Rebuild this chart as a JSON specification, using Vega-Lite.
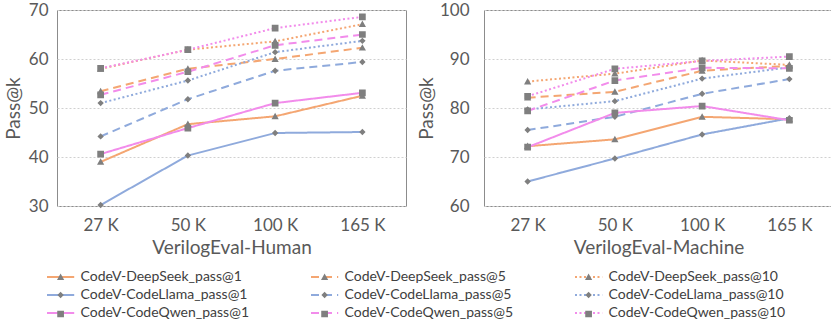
{
  "$schema": "https://vega.github.io/schema/vega-lite/v6.json",
  "background": "white",
  "padding": {"left": 3, "top": 0, "right": 0, "bottom": 0},
  "spacing": 9,
  "config": {
    "font": "Lato",
    "view": {"stroke": "#8c8c8c", "strokeWidth": 1},
    "axis": {
      "labelFont": "Lato", "labelFontSize": 17, "labelColor": "#595959",
      "titleFont": "Lato", "titleFontSize": 19, "titleFontWeight": "normal", "titleColor": "#595959",
      "ticks": false, "domain": false, "gridColor": "#d0d0d0", "gridDash": [2, 2], "gridWidth": 1
    },
    "axisX": {"grid": false, "labelPadding": 11, "titlePadding": 5, "labelAngle": 0},
    "axisY": {"grid": true},
    "legend": {"title": null, "orient": "none", "direction": "horizontal", "legendX": -10, "legendY": 258, "columns": 3, "symbolSize": 256, "symbolStrokeWidth": 2, "symbolOffset": 4.6, "labelFont": "Lato", "labelFontSize": 14, "labelColor": "#404040", "columnPadding": 56, "rowPadding": 2, "labelOffset": 11, "padding": 0, "labelLimit": 0}
  },
  "datasets": {
    "human": [
      {"size": "27 K", "series": "CodeV-DeepSeek_pass@1", "value": 39.0},
      {"size": "50 K", "series": "CodeV-DeepSeek_pass@1", "value": 46.7},
      {"size": "100 K", "series": "CodeV-DeepSeek_pass@1", "value": 48.3},
      {"size": "165 K", "series": "CodeV-DeepSeek_pass@1", "value": 52.5},
      {"size": "27 K", "series": "CodeV-DeepSeek_pass@5", "value": 53.4},
      {"size": "50 K", "series": "CodeV-DeepSeek_pass@5", "value": 58.0},
      {"size": "100 K", "series": "CodeV-DeepSeek_pass@5", "value": 60.0},
      {"size": "165 K", "series": "CodeV-DeepSeek_pass@5", "value": 62.3},
      {"size": "27 K", "series": "CodeV-DeepSeek_pass@10", "value": 58.0},
      {"size": "50 K", "series": "CodeV-DeepSeek_pass@10", "value": 61.9},
      {"size": "100 K", "series": "CodeV-DeepSeek_pass@10", "value": 63.6},
      {"size": "165 K", "series": "CodeV-DeepSeek_pass@10", "value": 67.1},
      {"size": "27 K", "series": "CodeV-CodeLlama_pass@1", "value": 30.2},
      {"size": "50 K", "series": "CodeV-CodeLlama_pass@1", "value": 40.3},
      {"size": "100 K", "series": "CodeV-CodeLlama_pass@1", "value": 44.9},
      {"size": "165 K", "series": "CodeV-CodeLlama_pass@1", "value": 45.1},
      {"size": "27 K", "series": "CodeV-CodeLlama_pass@5", "value": 44.2},
      {"size": "50 K", "series": "CodeV-CodeLlama_pass@5", "value": 51.8},
      {"size": "100 K", "series": "CodeV-CodeLlama_pass@5", "value": 57.6},
      {"size": "165 K", "series": "CodeV-CodeLlama_pass@5", "value": 59.4},
      {"size": "27 K", "series": "CodeV-CodeLlama_pass@10", "value": 51.0},
      {"size": "50 K", "series": "CodeV-CodeLlama_pass@10", "value": 55.6},
      {"size": "100 K", "series": "CodeV-CodeLlama_pass@10", "value": 61.4},
      {"size": "165 K", "series": "CodeV-CodeLlama_pass@10", "value": 63.7},
      {"size": "27 K", "series": "CodeV-CodeQwen_pass@1", "value": 40.6},
      {"size": "50 K", "series": "CodeV-CodeQwen_pass@1", "value": 45.9},
      {"size": "100 K", "series": "CodeV-CodeQwen_pass@1", "value": 51.0},
      {"size": "165 K", "series": "CodeV-CodeQwen_pass@1", "value": 53.1},
      {"size": "27 K", "series": "CodeV-CodeQwen_pass@5", "value": 52.7},
      {"size": "50 K", "series": "CodeV-CodeQwen_pass@5", "value": 57.4},
      {"size": "100 K", "series": "CodeV-CodeQwen_pass@5", "value": 62.8},
      {"size": "165 K", "series": "CodeV-CodeQwen_pass@5", "value": 65.0},
      {"size": "27 K", "series": "CodeV-CodeQwen_pass@10", "value": 58.1},
      {"size": "50 K", "series": "CodeV-CodeQwen_pass@10", "value": 61.9},
      {"size": "100 K", "series": "CodeV-CodeQwen_pass@10", "value": 66.3},
      {"size": "165 K", "series": "CodeV-CodeQwen_pass@10", "value": 68.6}
    ],
    "machine": [
      {"size": "27 K", "series": "CodeV-DeepSeek_pass@1", "value": 72.2},
      {"size": "50 K", "series": "CodeV-DeepSeek_pass@1", "value": 73.6},
      {"size": "100 K", "series": "CodeV-DeepSeek_pass@1", "value": 78.2},
      {"size": "165 K", "series": "CodeV-DeepSeek_pass@1", "value": 77.7},
      {"size": "27 K", "series": "CodeV-DeepSeek_pass@5", "value": 82.1},
      {"size": "50 K", "series": "CodeV-DeepSeek_pass@5", "value": 83.3},
      {"size": "100 K", "series": "CodeV-DeepSeek_pass@5", "value": 87.6},
      {"size": "165 K", "series": "CodeV-DeepSeek_pass@5", "value": 88.6},
      {"size": "27 K", "series": "CodeV-DeepSeek_pass@10", "value": 85.4},
      {"size": "50 K", "series": "CodeV-DeepSeek_pass@10", "value": 87.0},
      {"size": "100 K", "series": "CodeV-DeepSeek_pass@10", "value": 89.7},
      {"size": "165 K", "series": "CodeV-DeepSeek_pass@10", "value": 88.8},
      {"size": "27 K", "series": "CodeV-CodeLlama_pass@1", "value": 65.0},
      {"size": "50 K", "series": "CodeV-CodeLlama_pass@1", "value": 69.7},
      {"size": "100 K", "series": "CodeV-CodeLlama_pass@1", "value": 74.6},
      {"size": "165 K", "series": "CodeV-CodeLlama_pass@1", "value": 77.9},
      {"size": "27 K", "series": "CodeV-CodeLlama_pass@5", "value": 75.5},
      {"size": "50 K", "series": "CodeV-CodeLlama_pass@5", "value": 78.2},
      {"size": "100 K", "series": "CodeV-CodeLlama_pass@5", "value": 82.9},
      {"size": "165 K", "series": "CodeV-CodeLlama_pass@5", "value": 85.9},
      {"size": "27 K", "series": "CodeV-CodeLlama_pass@10", "value": 79.7},
      {"size": "50 K", "series": "CodeV-CodeLlama_pass@10", "value": 81.4},
      {"size": "100 K", "series": "CodeV-CodeLlama_pass@10", "value": 86.0},
      {"size": "165 K", "series": "CodeV-CodeLlama_pass@10", "value": 88.3},
      {"size": "27 K", "series": "CodeV-CodeQwen_pass@1", "value": 72.0},
      {"size": "50 K", "series": "CodeV-CodeQwen_pass@1", "value": 79.0},
      {"size": "100 K", "series": "CodeV-CodeQwen_pass@1", "value": 80.4},
      {"size": "165 K", "series": "CodeV-CodeQwen_pass@1", "value": 77.5},
      {"size": "27 K", "series": "CodeV-CodeQwen_pass@5", "value": 79.4},
      {"size": "50 K", "series": "CodeV-CodeQwen_pass@5", "value": 85.6},
      {"size": "100 K", "series": "CodeV-CodeQwen_pass@5", "value": 88.2},
      {"size": "165 K", "series": "CodeV-CodeQwen_pass@5", "value": 88.1},
      {"size": "27 K", "series": "CodeV-CodeQwen_pass@10", "value": 82.4},
      {"size": "50 K", "series": "CodeV-CodeQwen_pass@10", "value": 88.0},
      {"size": "100 K", "series": "CodeV-CodeQwen_pass@10", "value": 89.6},
      {"size": "165 K", "series": "CodeV-CodeQwen_pass@10", "value": 90.5}
    ]
  },
  "hconcat": [
    {
      "width": 349, "height": 196,
      "data": {"name": "human"},
      "encoding": {
        "x": {"field": "size", "type": "ordinal", "scale": {"domain": ["27 K", "50 K", "100 K", "165 K"]}, "axis": {"title": "VerilogEval-Human"}},
        "y": {"field": "value", "type": "quantitative", "scale": {"domain": [30, 70], "nice": false, "zero": false}, "axis": {"values": [30, 40, 50, 60, 70], "title": "Pass@k", "labelPadding": 9, "titlePadding": 5}}
      },
      "layer": [
        {
          "mark": {"type": "line", "strokeWidth": 2},
          "encoding": {
            "color": {"field": "series", "type": "nominal",
              "scale": {"domain": ["CodeV-DeepSeek_pass@1", "CodeV-DeepSeek_pass@5", "CodeV-DeepSeek_pass@10", "CodeV-CodeLlama_pass@1", "CodeV-CodeLlama_pass@5", "CodeV-CodeLlama_pass@10", "CodeV-CodeQwen_pass@1", "CodeV-CodeQwen_pass@5", "CodeV-CodeQwen_pass@10"],
                "range": ["#F4A672", "#F4A672", "#F4A672", "#8FAADC", "#8FAADC", "#8FAADC", "#F28CEB", "#F28CEB", "#F28CEB"]},
              "legend": {"symbolType": "M-1.7,0L1.7,0"}},
            "strokeDash": {"field": "series", "type": "nominal",
              "scale": {"domain": ["CodeV-DeepSeek_pass@1", "CodeV-DeepSeek_pass@5", "CodeV-DeepSeek_pass@10", "CodeV-CodeLlama_pass@1", "CodeV-CodeLlama_pass@5", "CodeV-CodeLlama_pass@10", "CodeV-CodeQwen_pass@1", "CodeV-CodeQwen_pass@5", "CodeV-CodeQwen_pass@10"],
                "range": [[1, 0], [8, 5], [2, 2.5], [1, 0], [8, 5], [2, 2.5], [1, 0], [8, 5], [2, 2.5]]},
              "legend": {"symbolType": "M-1.7,0L1.7,0"}}
          }
        },
        {
          "mark": {"type": "point", "filled": true, "color": "#7f7f7f", "size": 256, "opacity": 1, "strokeWidth": 0},
          "encoding": {
            "shape": {"field": "series", "type": "nominal",
              "sort": ["CodeV-DeepSeek_pass@1", "CodeV-DeepSeek_pass@5", "CodeV-DeepSeek_pass@10", "CodeV-CodeLlama_pass@1", "CodeV-CodeLlama_pass@5", "CodeV-CodeLlama_pass@10", "CodeV-CodeQwen_pass@1", "CodeV-CodeQwen_pass@5", "CodeV-CodeQwen_pass@10"],
              "scale": {"range": [
                "M-1.7,0L1.7,0M0,-0.45L0.45,0.36L-0.45,0.36Z", "M-1.7,0L1.7,0M0,-0.45L0.45,0.36L-0.45,0.36Z", "M-1.7,0L1.7,0M0,-0.45L0.45,0.36L-0.45,0.36Z",
                "M-1.7,0L1.7,0M0,-0.4L0.4,0L0,0.4L-0.4,0Z", "M-1.7,0L1.7,0M0,-0.4L0.4,0L0,0.4L-0.4,0Z", "M-1.7,0L1.7,0M0,-0.4L0.4,0L0,0.4L-0.4,0Z",
                "M-1.7,0L1.7,0M-0.42,-0.42H0.42V0.42H-0.42Z", "M-1.7,0L1.7,0M-0.42,-0.42H0.42V0.42H-0.42Z", "M-1.7,0L1.7,0M-0.42,-0.42H0.42V0.42H-0.42Z"]},
              "legend": {"symbolStrokeColor": "transparent", "symbolFillColor": "#7f7f7f", "labelOpacity": 0}}
          }
        }
      ]
    },
    {
      "width": 349, "height": 196,
      "data": {"name": "machine"},
      "encoding": {
        "x": {"field": "size", "type": "ordinal", "scale": {"domain": ["27 K", "50 K", "100 K", "165 K"]}, "axis": {"title": "VerilogEval-Machine"}},
        "y": {"field": "value", "type": "quantitative", "scale": {"domain": [60, 100], "nice": false, "zero": false}, "axis": {"values": [60, 70, 80, 90, 100], "title": "Pass@k", "labelPadding": 15, "titlePadding": 3}}
      },
      "layer": [
        {
          "mark": {"type": "line", "strokeWidth": 2},
          "encoding": {
            "color": {"field": "series", "type": "nominal",
              "scale": {"domain": ["CodeV-DeepSeek_pass@1", "CodeV-DeepSeek_pass@5", "CodeV-DeepSeek_pass@10", "CodeV-CodeLlama_pass@1", "CodeV-CodeLlama_pass@5", "CodeV-CodeLlama_pass@10", "CodeV-CodeQwen_pass@1", "CodeV-CodeQwen_pass@5", "CodeV-CodeQwen_pass@10"],
                "range": ["#F4A672", "#F4A672", "#F4A672", "#8FAADC", "#8FAADC", "#8FAADC", "#F28CEB", "#F28CEB", "#F28CEB"]},
              "legend": {"symbolType": "M-1.7,0L1.7,0"}},
            "strokeDash": {"field": "series", "type": "nominal",
              "scale": {"domain": ["CodeV-DeepSeek_pass@1", "CodeV-DeepSeek_pass@5", "CodeV-DeepSeek_pass@10", "CodeV-CodeLlama_pass@1", "CodeV-CodeLlama_pass@5", "CodeV-CodeLlama_pass@10", "CodeV-CodeQwen_pass@1", "CodeV-CodeQwen_pass@5", "CodeV-CodeQwen_pass@10"],
                "range": [[1, 0], [8, 5], [2, 2.5], [1, 0], [8, 5], [2, 2.5], [1, 0], [8, 5], [2, 2.5]]},
              "legend": {"symbolType": "M-1.7,0L1.7,0"}}
          }
        },
        {
          "mark": {"type": "point", "filled": true, "color": "#7f7f7f", "size": 256, "opacity": 1, "strokeWidth": 0},
          "encoding": {
            "shape": {"field": "series", "type": "nominal",
              "sort": ["CodeV-DeepSeek_pass@1", "CodeV-DeepSeek_pass@5", "CodeV-DeepSeek_pass@10", "CodeV-CodeLlama_pass@1", "CodeV-CodeLlama_pass@5", "CodeV-CodeLlama_pass@10", "CodeV-CodeQwen_pass@1", "CodeV-CodeQwen_pass@5", "CodeV-CodeQwen_pass@10"],
              "scale": {"range": [
                "M-1.7,0L1.7,0M0,-0.45L0.45,0.36L-0.45,0.36Z", "M-1.7,0L1.7,0M0,-0.45L0.45,0.36L-0.45,0.36Z", "M-1.7,0L1.7,0M0,-0.45L0.45,0.36L-0.45,0.36Z",
                "M-1.7,0L1.7,0M0,-0.4L0.4,0L0,0.4L-0.4,0Z", "M-1.7,0L1.7,0M0,-0.4L0.4,0L0,0.4L-0.4,0Z", "M-1.7,0L1.7,0M0,-0.4L0.4,0L0,0.4L-0.4,0Z",
                "M-1.7,0L1.7,0M-0.42,-0.42H0.42V0.42H-0.42Z", "M-1.7,0L1.7,0M-0.42,-0.42H0.42V0.42H-0.42Z", "M-1.7,0L1.7,0M-0.42,-0.42H0.42V0.42H-0.42Z"]},
              "legend": {"symbolStrokeColor": "transparent", "symbolFillColor": "#7f7f7f", "labelOpacity": 0}}
          }
        }
      ]
    }
  ]
}
